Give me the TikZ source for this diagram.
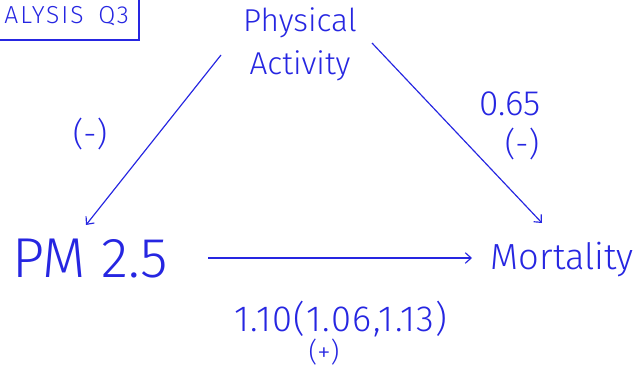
\documentclass[tikz,border=0pt]{standalone}
\usepackage{fontspec}
\setmainfont{Fira Sans}[UprightFont=* Light]
\usetikzlibrary{arrows.meta}
\definecolor{pen}{RGB}{38,38,225}

\begin{document}
\begin{tikzpicture}[x=0.03cm,y=-0.03cm,>={Straight Barb[length=5pt,width=9pt]},
    every node/.style={text=pen,inner sep=0pt}]
    \useasboundingbox (0,0) rectangle (636,368);

    % Title box (cut at the page edge)
    \draw[pen,line width=1pt] (-60,-5) rectangle (139,40);
    \node[font=\fontsize{21}{21}\selectfont\addfontfeature{LetterSpace=8},anchor=east] (title) at (129,16) {ANALYSIS\hspace{0.6em}Q3};

    % Variables
    \node[font=\fontsize{27}{37}\selectfont,align=center] (pa) at (300,44) {Physical\\Activity};
    \node[font=\fontsize{48}{48}\selectfont,anchor=west] (pm) at (12,259) {PM 2.5};
    \node[font=\fontsize{31}{31}\selectfont,anchor=east] (mort) at (634,260) {Mortality};

    % Paths
    \coordinate (a1) at (221,55);
    \coordinate (a2) at (86,225);
    \coordinate (b1) at (372,43);
    \coordinate (b2) at (542,223);
    \coordinate (c1) at (208,258);
    \coordinate (c2) at (472,258);
    \draw[->,pen,line width=1pt] (a1) -- (a2);
    \draw[->,pen,line width=1pt] (b1) -- (b2);
    \draw[->,pen,line width=1pt] (c1) -- (c2);

    % Effects
    \node[font=\fontsize{28}{28}\selectfont] (ea) at (90,134) {(-)};
    \node[font=\fontsize{30}{30}\selectfont] (eb) at (510,104) {0.65};
    \node[font=\fontsize{28}{28}\selectfont] (ebs) at (522,144) {(-)};
    \node[font=\fontsize{31}{31}\selectfont\addfontfeature{LetterSpace=4}] (ec) at (341,319) {1.10(1.06,1.13)};
    \node[font=\fontsize{23}{23}\selectfont] (ecs) at (324,352) {(+)};
\end{tikzpicture}
\end{document}
